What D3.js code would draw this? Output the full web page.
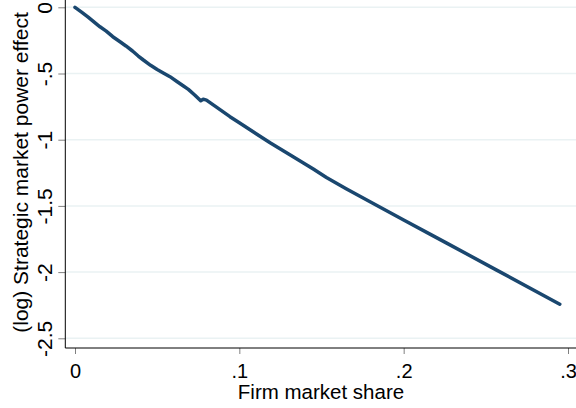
<!doctype html>
<html>
    <head>
        <title>Strategic market power effect</title>
    </head>
    <script src="https://cdn.jsdelivr.net/npm/d3@7"></script>
    <style>
        html, body {
            width: 100%;
            height: 100%;
            margin: 0px;
            padding: 0px;
            background: #ffffff;
        }
        text {
            font-family: "Liberation Sans", Arial, sans-serif;
            fill: #000000;
        }
    </style>
    <body>
        <svg class="svg"></svg>
    </body>
    <script>
        // firm market share (x) and (log) strategic market power effect (y)
        var shareValues = [0, 0.004, 0.008, 0.0115, 0.0152, 0.019, 0.023, 0.0274, 0.031, 0.035,
            0.0385, 0.0416, 0.046, 0.050, 0.054, 0.0578, 0.062, 0.066, 0.069, 0.073,
            0.0765, 0.078, 0.080, 0.085, 0.0943, 0.100, 0.1187, 0.130, 0.140, 0.142,
            0.145, 0.153, 0.165, 0.1815, 0.200, 0.216, 0.2262, 0.2566, 0.2950];
        var effectValues = [0, -0.036, -0.074, -0.110, -0.147, -0.180, -0.222, -0.260, -0.292, -0.330,
            -0.368, -0.398, -0.438, -0.470, -0.498, -0.524, -0.560, -0.594, -0.620, -0.664,
            -0.706, -0.694, -0.701, -0.745, -0.826, -0.872, -1.023, -1.108, -1.183, -1.198,
            -1.222, -1.285, -1.370, -1.482, -1.606, -1.713, -1.781, -1.985, -2.243];

        var xTickValues = [0, 0.1, 0.2, 0.3];
        var xTickLabels = ['0', '.1', '.2', '.3'];
        var yTickValues = [0, -0.5, -1, -1.5, -2, -2.5];
        var yTickLabels = ['0', '-.5', '-1', '-1.5', '-2', '-2.5'];

        var xTitle = 'Firm market share';
        var yTitle = '(log) Strategic market power effect';

        var width = 576, height = 408;
        var axisX = 65.3, axisY = 348;

        var svg = d3.select('svg')
            .attr('width', width)
            .attr('height', height);

        var xScale = d3.scaleLinear().domain([0, 0.3]).range([75, 568]);
        var yScale = d3.scaleLinear().domain([0, -2.5]).range([7.3, 338.3]);

        // grid lines
        svg.append('g')
            .selectAll('line')
            .data(yTickValues)
            .enter()
            .append('line')
            .attr('x1', axisX)
            .attr('x2', width)
            .attr('y1', function(d) { return yScale(d); })
            .attr('y2', function(d) { return yScale(d); })
            .attr('stroke', '#eaf2f3')
            .attr('stroke-width', 1.5);

        // x axis
        var xAxis = d3.axisBottom(xScale)
            .tickValues(xTickValues)
            .tickSize(6)
            .tickFormat(function(d, i) { return xTickLabels[i]; });
        var xAxisGroup = svg.append('g')
            .attr('transform', 'translate(0, ' + axisY + ')')
            .call(xAxis);
        xAxisGroup.select('.domain').remove();
        xAxisGroup.selectAll('.tick line').attr('stroke', '#808080').attr('stroke-width', 1);
        xAxisGroup.selectAll('.tick text')
            .attr('y', 30)
            .attr('dy', 0)
            .style('font-size', '20px')
            .style('font-family', '"Liberation Sans", Arial, sans-serif')
            .attr('fill', '#000');

        // y axis
        var yAxis = d3.axisLeft(yScale)
            .tickValues(yTickValues)
            .tickSize(7)
            .tickFormat(function(d, i) { return yTickLabels[i]; });
        var yAxisGroup = svg.append('g')
            .attr('transform', 'translate(' + axisX + ', 0)')
            .call(yAxis);
        yAxisGroup.select('.domain').remove();
        yAxisGroup.selectAll('.tick line').attr('stroke', '#808080').attr('stroke-width', 1);
        yAxisGroup.selectAll('.tick text')
            .attr('x', 0)
            .attr('y', -13.6)
            .attr('dy', 0)
            .attr('transform', 'rotate(-90)')
            .attr('text-anchor', 'middle')
            .style('font-size', '21px')
            .style('font-family', '"Liberation Sans", Arial, sans-serif')
            .attr('fill', '#000');

        // axis lines
        svg.append('line')
            .attr('x1', axisX).attr('x2', width)
            .attr('y1', axisY).attr('y2', axisY)
            .attr('stroke', '#000').attr('stroke-width', 1);
        svg.append('line')
            .attr('x1', axisX).attr('x2', axisX)
            .attr('y1', 0).attr('y2', axisY)
            .attr('stroke', '#000').attr('stroke-width', 1);

        // the curve
        var line = d3.line()
            .x(function(d, i) { return xScale(shareValues[i]); })
            .y(function(d) { return yScale(d); });
        svg.append('path')
            .datum(effectValues)
            .attr('d', line)
            .attr('fill', 'none')
            .attr('stroke', '#1a476f')
            .attr('stroke-width', 3.5)
            .attr('stroke-linejoin', 'round')
            .attr('stroke-linecap', 'round');

        // titles
        svg.append('text')
            .attr('x', 321)
            .attr('y', 398.5)
            .attr('text-anchor', 'middle')
            .style('font-size', '20.5px')
            .text(xTitle);
        svg.append('text')
            .attr('transform', 'translate(27.5, 172.5) rotate(-90)')
            .attr('text-anchor', 'middle')
            .style('font-size', '21px')
            .text(yTitle);
    </script>
</html>
